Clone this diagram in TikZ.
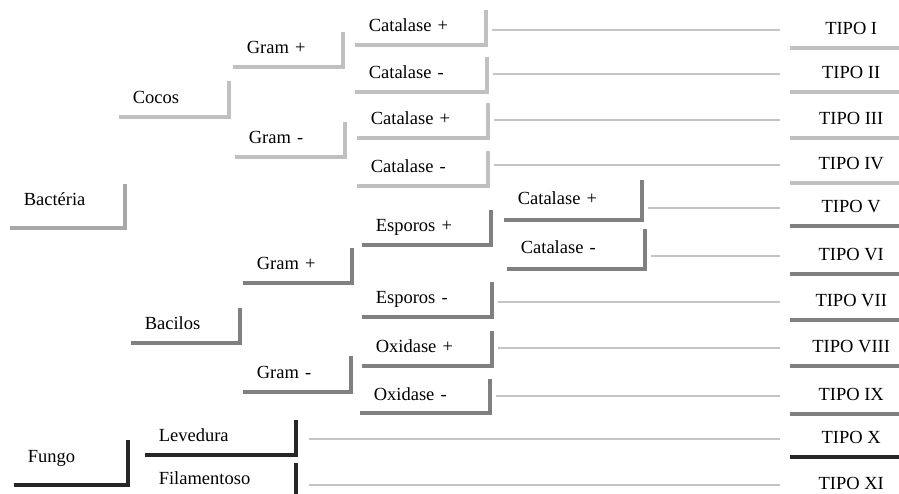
\documentclass[tikz,border=0pt]{standalone}
\usepackage{fontspec}
\setmainfont{Liberation Serif}
\definecolor{bactgray}{HTML}{A8A8A8}
\definecolor{cocgray}{HTML}{C0C0C0}
\definecolor{bacgray}{HTML}{808080}
\definecolor{fungray}{HTML}{262626}
\definecolor{linkgray}{HTML}{C4C4C4}

\begin{document}
\begin{tikzpicture}[x=1pt, y=-1pt,
every node/.style={font=\fontsize{18.5}{22}\selectfont, inner sep=0pt},
brk/.style={anchor=south east, align=left, inner xsep=14pt, text height=13pt, text depth=4pt},
root/.style={brk, text depth=13pt},
tipo/.style={anchor=south west, minimum width=122pt, minimum height=36pt, text height=13pt, text depth=4pt},
bact/.style={line width=4.5pt, bactgray},
coc/.style={line width=4.5pt, cocgray},
bac/.style={line width=4.5pt, bacgray},
fun/.style={line width=4.5pt, fungray},
link/.style={line width=1.5pt, linkgray, shorten <=6pt, shorten >=10pt}
]
\useasboundingbox (0,0) rectangle (899,493);

%create nodes
\node[root, text width=87pt, minimum height=44pt] (bact) at (125,228) {Bact\'eria};
\node[root, text width=86pt, minimum height=45pt] (fungo) at (128,485) {Fungo};

\node[brk, text width=82pt, minimum height=36pt] (cocos) at (229,117) {Cocos};
\node[brk, text width=81pt, minimum height=35pt] (bacilos) at (240,343) {Bacilos};
\node[brk, text width=123pt, minimum height=35pt] (leved) at (296,455) {Levedura};
\node[brk, text width=123pt, minimum height=35pt] (filam) at (296,498) {Filamentoso};

\node[brk, text width=82pt, minimum height=35pt] (gcp) at (343,67) {Gram +};
\node[brk, text width=82pt, minimum height=35pt] (gcm) at (345,157) {Gram -};
\node[brk, text width=81pt, minimum height=35pt] (gbp) at (352,283) {Gram +};
\node[brk, text width=80pt, minimum height=36pt] (gbm) at (351,392) {Gram -};

\node[brk, text width=103pt, minimum height=35pt] (c1) at (486,45) {Catalase +};
\node[brk, text width=104pt, minimum height=35pt] (c2) at (487,92) {Catalase -};
\node[brk, text width=103pt, minimum height=35pt] (c3) at (488,138) {Catalase +};
\node[brk, text width=103pt, minimum height=35pt] (c4) at (488,186) {Catalase -};
\node[brk, text width=101pt, minimum height=35pt] (esp) at (491,245) {Esporos +};
\node[brk, text width=102pt, minimum height=35pt] (esm) at (492,317) {Esporos -};
\node[brk, text width=102pt, minimum height=35pt] (oxp) at (492,366) {Oxidase +};
\node[brk, text width=102pt, minimum height=34pt] (oxm) at (490,413) {Oxidase -};

\node[brk, text width=110pt, minimum height=40pt] (c5) at (642,220) {Catalase +};
\node[brk, text width=110pt, minimum height=40pt] (c6) at (645,269) {Catalase -};

\node[tipo] (t1) at (790,48) {TIPO I};
\node[tipo] (t2) at (790,92) {TIPO II};
\node[tipo] (t3) at (790,138) {TIPO III};
\node[tipo] (t4) at (790,183) {TIPO IV};
\node[tipo] (t5) at (790,226) {TIPO V};
\node[tipo] (t6) at (790,274) {TIPO VI};
\node[tipo] (t7) at (790,320) {TIPO VII};
\node[tipo] (t8) at (790,366) {TIPO VIII};
\node[tipo] (t9) at (790,414) {TIPO IX};
\node[tipo] (t10) at (790,457) {TIPO X};
\node[tipo] (t11) at (790,503) {TIPO XI};

%draw brackets
\draw[bact] (bact.south west) -| (bact.north east);
\draw[fun] (fungo.south west) -| (fungo.north east);

\draw[coc] (cocos.south west) -| (cocos.north east);
\draw[bac] (bacilos.south west) -| (bacilos.north east);
\draw[fun] (leved.south west) -| (leved.north east);
\draw[fun] (filam.north east) -- (filam.south east);

\draw[coc] (gcp.south west) -| (gcp.north east);
\draw[coc] (gcm.south west) -| (gcm.north east);
\draw[bac] (gbp.south west) -| (gbp.north east);
\draw[bac] (gbm.south west) -| (gbm.north east);

\draw[coc] (c1.south west) -| (c1.north east);
\draw[coc] (c2.south west) -| (c2.north east);
\draw[coc] (c3.south west) -| (c3.north east);
\draw[coc] (c4.south west) -| (c4.north east);
\draw[bac] (esp.south west) -| (esp.north east);
\draw[bac] (esm.south west) -| (esm.north east);
\draw[bac] (oxp.south west) -| (oxp.north east);
\draw[bac] (oxm.south west) -| (oxm.north east);
\draw[bac] (c5.south west) -| (c5.north east);
\draw[bac] (c6.south west) -| (c6.north east);

\draw[coc] (t1.south west) -- (t1.south east);
\draw[coc] (t2.south west) -- (t2.south east);
\draw[coc] (t3.south west) -- (t3.south east);
\draw[coc] (t4.south west) -- (t4.south east);
\draw[bac] (t5.south west) -- (t5.south east);
\draw[bac] (t6.south west) -- (t6.south east);
\draw[bac] (t7.south west) -- (t7.south east);
\draw[bac] (t8.south west) -- (t8.south east);
\draw[bac] (t9.south west) -- (t9.south east);
\draw[fun] (t10.south west) -- (t10.south east);

%draw paths
\draw[link] (c1.east |- t1.west) -- (t1.west);
\draw[link] (c2.east |- t2.west) -- (t2.west);
\draw[link] (c3.east |- t3.west) -- (t3.west);
\draw[link] (c4.east |- t4.west) -- (t4.west);
\draw[link] (c5.east |- t5.west) -- (t5.west);
\draw[link] (c6.east |- t6.west) -- (t6.west);
\draw[link] (esm.east |- t7.west) -- (t7.west);
\draw[link] (oxp.east |- t8.west) -- (t8.west);
\draw[link] (oxm.east |- t9.west) -- (t9.west);
\draw[link, shorten <=13pt] (leved.east |- t10.west) -- (t10.west);
\draw[link, shorten <=13pt] (filam.east |- t11.west) -- (t11.west);

\end{tikzpicture}
\end{document}
